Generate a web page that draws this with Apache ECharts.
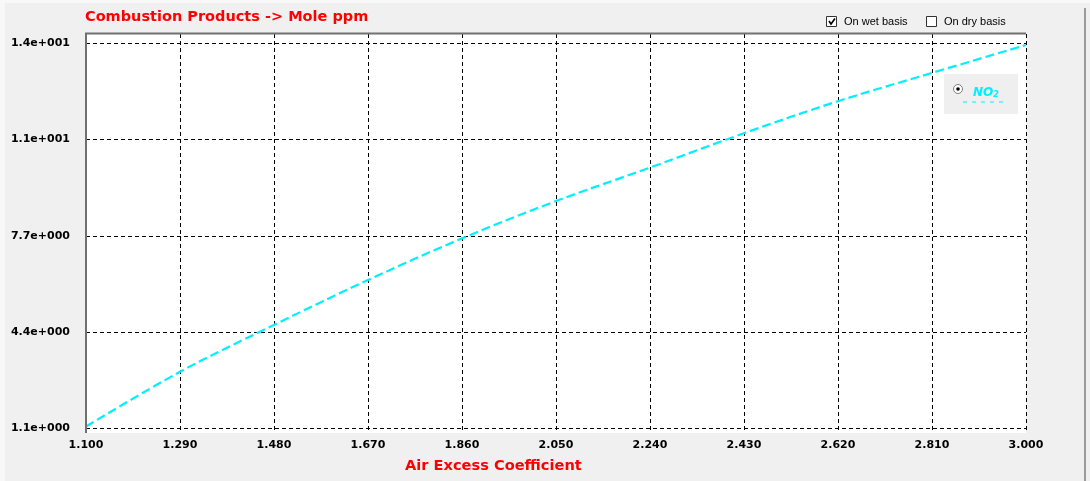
<!DOCTYPE html>
<html>
<head>
<meta charset="utf-8">
<script src="https://cdn.jsdelivr.net/npm/echarts@6/dist/echarts.min.js"></script>
<style>
html,body{margin:0;padding:0;background:#f0f0f0;}
#c{width:1090px;height:481px;}
</style>
</head>
<body>
<div id="c"></div>
<script>
// ---- data ----
const chartTitle = 'Combustion Products -> Mole ppm';
const xAxisTitle = 'Air Excess Coefficient';
const seriesName = 'NO2';
const xValues = [1.1, 1.29, 1.48, 1.67, 1.86, 2.05, 2.24, 2.43, 2.62, 2.81, 3.0];
const no2Values = [1.15, 3.03, 4.64, 6.18, 7.61, 8.89, 10.04, 11.22, 12.32, 13.29, 14.25];
const xMin = 1.1, xMax = 3.0, xStep = 0.19;
const yMin = 1.1, yMax = 14.3, yStep = 3.3;
const checkLabels = ['On wet basis', 'On dry basis'];
const checkStates = [true, false];

function fmtY(v) {
  const s = Number(v).toExponential(1); // e.g. 1.4e+1
  const m = s.split('e');
  const exp = parseInt(m[1], 10);
  const sign = exp < 0 ? '-' : '+';
  return m[0] + 'e' + sign + String(Math.abs(exp)).padStart(3, '0');
}

const chart = echarts.init(document.getElementById('c'), null, {renderer: 'canvas'});
const labelFont = {fontFamily: 'DejaVu Sans', fontWeight: 'bold', fontSize: 11, color: '#000'};
const dashGrid = {show: true, lineStyle: {color: '#000', width: 1, type: [4, 3]}};

const cyan = '#00f0ff';

const graphics = [
  // window frame details
  {type: 'rect', shape: {x: 0, y: 0, width: 1090, height: 3}, style: {fill: '#f8f8f8'}, z: 0, silent: true},
  {type: 'rect', shape: {x: 0, y: 0, width: 5, height: 481}, style: {fill: '#f8f8f8'}, z: 0, silent: true},
  {type: 'line', shape: {x1: 1085, y1: 8, x2: 1085, y2: 481}, style: {stroke: '#9a9a9a', lineWidth: 2}, z: 10, silent: true},
  // plot frame left/top
  {type: 'line', shape: {x1: 86, y1: 33, x2: 86, y2: 433}, style: {stroke: '#707070', lineWidth: 2}, z: 100, silent: true},
  {type: 'line', shape: {x1: 85, y1: 33.5, x2: 1026, y2: 33.5}, style: {stroke: '#707070', lineWidth: 2}, z: 100, silent: true},
  // title
  {type: 'text', style: {text: chartTitle, x: 85, y: 17, font: 'bold 14.5px "DejaVu Sans"', fill: '#ff0000', verticalAlign: 'middle', align: 'left'}, z: 100},
  // x axis title
  {type: 'text', style: {text: xAxisTitle, x: 405, y: 466, font: 'bold 14.6px "DejaVu Sans"', fill: '#ff0000', verticalAlign: 'middle', align: 'left'}, z: 100},
  // legend box
  {type: 'rect', shape: {x: 944, y: 74, width: 74, height: 40}, style: {fill: '#efefef'}, z: 100, silent: true},
  {type: 'circle', shape: {cx: 958, cy: 89, r: 4.5}, style: {fill: '#fff', stroke: '#808080', lineWidth: 1}, z: 101, silent: true},
  {type: 'circle', shape: {cx: 958, cy: 89, r: 1.8}, style: {fill: '#000'}, z: 102, silent: true},
  {type: 'text', style: {text: '{a|NO}{b|2}', x: 973, y: 93, verticalAlign: 'middle', align: 'left',
    rich: {a: {fontFamily: 'DejaVu Sans', fontSize: 12, fontWeight: 'bold', fontStyle: 'italic', fill: cyan, color: cyan},
           b: {fontFamily: 'DejaVu Sans', fontSize: 8, fontWeight: 'bold', fontStyle: 'italic', fill: cyan, color: cyan, padding: [4, 0, 0, 0]}}}, z: 102},
  {type: 'line', shape: {x1: 963, y1: 102, x2: 1004, y2: 102}, style: {stroke: cyan, lineWidth: 1, lineDash: [4, 5]}, z: 102, silent: true}
];
// checkboxes
const cbX = [826, 926];
checkLabels.forEach((t, i) => {
  graphics.push({type: 'rect', shape: {x: cbX[i] + 0.5, y: 16.5, width: 10, height: 10}, style: {fill: '#fff', stroke: '#333', lineWidth: 1}, z: 100, silent: true});
  if (checkStates[i]) {
    graphics.push({type: 'polyline', shape: {points: [[cbX[i] + 3, 21], [cbX[i] + 5, 24], [cbX[i] + 9, 18.5]]}, style: {stroke: '#000', lineWidth: 1.6, fill: null}, z: 101, silent: true});
  }
  graphics.push({type: 'text', style: {text: t, x: cbX[i] + 18, y: 21.5, font: '11px "Liberation Sans"', fill: '#000', verticalAlign: 'middle', align: 'left'}, z: 100});
});

const option = {
  animation: false,
  backgroundColor: '#f0f0f0',
  grid: [
    {left: 86, right: 64, top: 43.5, bottom: 53, containLabel: false},
    {left: 86, right: 64, top: 34, bottom: 48, show: true, backgroundColor: '#ffffff', borderWidth: 0}
  ],
  xAxis: [
    {type: 'value', gridIndex: 0, min: xMin, max: xMax, interval: xStep,
     axisLine: {show: false}, axisTick: {show: false}, axisLabel: {show: false}, splitLine: {show: false}},
    {type: 'value', gridIndex: 1, min: xMin, max: xMax, interval: xStep,
     axisLine: {show: false}, axisTick: {show: false},
     axisLabel: Object.assign({margin: 7, formatter: v => Number(v).toFixed(3), showMinLabel: true, showMaxLabel: true}, labelFont),
     splitLine: dashGrid}
  ],
  yAxis: [
    {type: 'value', gridIndex: 0, min: yMin, max: yMax, interval: yStep,
     axisLine: {show: false}, axisTick: {show: false},
     axisLabel: Object.assign({margin: 16, formatter: fmtY, showMinLabel: true, showMaxLabel: true}, labelFont),
     splitLine: dashGrid},
    {type: 'value', gridIndex: 1, min: 0, max: 1,
     axisLine: {show: false}, axisTick: {show: false}, axisLabel: {show: false}, splitLine: {show: false}}
  ],
  series: [{
    name: seriesName,
    type: 'line',
    xAxisIndex: 0, yAxisIndex: 0,
    data: xValues.map((x, i) => [x, no2Values[i]]),
    smooth: 0.35,
    symbol: 'none',
    lineStyle: {color: cyan, width: 2.2, type: [9, 4]},
    z: 5
  }],
  graphic: graphics
};
chart.setOption(option);
</script>
</body>
</html>
